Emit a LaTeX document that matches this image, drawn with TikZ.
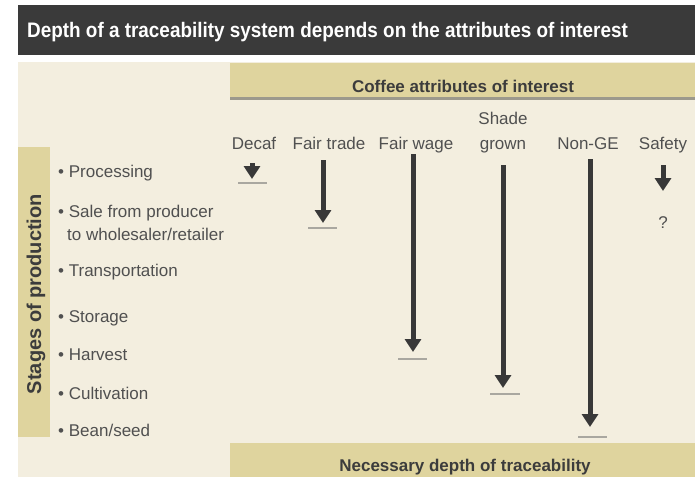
\documentclass[tikz,border=0pt]{standalone}
\usepackage{fontspec}
\setmainfont{Liberation Sans}
\newfontfamily\narrowsans[FakeStretch=0.9]{Liberation Sans}
\usetikzlibrary{arrows.meta}

\definecolor{headbg}{HTML}{3A3A3A}
\definecolor{paper}{HTML}{F3EEDF}
\definecolor{tanbar}{HTML}{DFD49E}
\definecolor{shadowline}{HTML}{9C998C}
\definecolor{ink}{HTML}{505050}
\definecolor{darkink}{HTML}{3C3C3C}
\definecolor{shaft}{HTML}{383838}
\definecolor{limit}{HTML}{A9A7A0}

\tikzset{
  title/.style={anchor=base west, text=white, inner sep=0pt,
    font=\narrowsans\bfseries\fontsize{21}{24}\selectfont},
  barlabel/.style={anchor=base, text=darkink, inner sep=0pt,
    font=\bfseries\fontsize{17}{20}\selectfont},
  attr/.style={anchor=base, text=ink, inner sep=0pt,
    font=\fontsize{17}{20}\selectfont},
  stage/.style={anchor=base west, text=ink, inner sep=0pt,
    font=\fontsize{17}{20}\selectfont},
  depth/.style={draw=shaft, line width=5pt,
    -{Triangle[width=16pt,length=13pt]}},
  limitline/.style={draw=limit, line width=2.5pt},
}

\begin{document}
\begin{tikzpicture}[x=1pt,y=-1pt]
\useasboundingbox (0,0) rectangle (700,477);
\fill[white] (0,0) rectangle (700,477);

% panels
\fill[headbg] (18,5) rectangle (695,55);
\fill[paper] (18,62) rectangle (695,477);
\fill[tanbar] (230,63) rectangle (695,97);
\fill[shadowline] (230,97) rectangle (695,100);
\fill[tanbar] (18,147) rectangle (50,437);
\fill[tanbar] (230,443) rectangle (695,477);

% headings
\node[title] (head) at (27,37) {Depth of a traceability system depends on the attributes of interest};
\node[barlabel] (attrhead) at (463,92) {Coffee attributes of interest};
\node[barlabel] (depthhead) at (465,471) {Necessary depth of traceability};
\node[barlabel, rotate=90, anchor=base, font=\bfseries\fontsize{20}{24}\selectfont]
  (stagehead) at (41,294) {Stages of production};

% stages of production
\node[stage] (s1) at (58,177) {\textbullet\ Processing};
\node[stage] (s2) at (58,217) {\textbullet\ Sale from producer};
\node[stage] (s2b) at (67,240) {to wholesaler/retailer};
\node[stage] (s3) at (58,276) {\textbullet\ Transportation};
\node[stage] (s4) at (58,322) {\textbullet\ Storage};
\node[stage] (s5) at (58,360) {\textbullet\ Harvest};
\node[stage] (s6) at (58,399) {\textbullet\ Cultivation};
\node[stage] (s7) at (58,436) {\textbullet\ Bean/seed};

% attribute columns
\node[attr] (decaf) at (254,149) {Decaf};
\node[attr] (fairtrade) at (329,149) {Fair trade};
\node[attr] (fairwage) at (416,149) {Fair wage};
\node[attr] (shade) at (503,124) {Shade};
\node[attr] (grown) at (503,149) {grown};
\node[attr] (nonge) at (588,149) {Non-GE};
\node[attr] (safety) at (663,149) {Safety};
\node[attr] (unknown) at (663,228) {?};

% arrow start and end points
\coordinate (decafA) at (252,163);   \coordinate (decafB) at (252,179);
\coordinate (tradeA) at (323,160);   \coordinate (tradeB) at (323,223);
\coordinate (wageA) at (413,154);    \coordinate (wageB) at (413,352);
\coordinate (shadeA) at (503,165);   \coordinate (shadeB) at (503,388);
\coordinate (ngeA) at (590,159);     \coordinate (ngeB) at (590,427);
\coordinate (safeA) at (663,165);    \coordinate (safeB) at (663,191);

\draw[depth] (decafA) -- (decafB);
\draw[depth] (tradeA) -- (tradeB);
\draw[depth] (wageA) -- (wageB);
\draw[depth] (shadeA) -- (shadeB);
\draw[depth] (ngeA) -- (ngeB);
\draw[depth] (safeA) -- (safeB);

% depth limits
\coordinate (decafL) at (238,183);  \coordinate (decafR) at (267,183);
\coordinate (tradeL) at (308,228);  \coordinate (tradeR) at (337,228);
\coordinate (wageL) at (398,359);   \coordinate (wageR) at (427,359);
\coordinate (shadeL) at (490,394);  \coordinate (shadeR) at (520,394);
\coordinate (ngeL) at (578,437);    \coordinate (ngeR) at (607,437);

\draw[limitline] (decafL) -- (decafR);
\draw[limitline] (tradeL) -- (tradeR);
\draw[limitline] (wageL) -- (wageR);
\draw[limitline] (shadeL) -- (shadeR);
\draw[limitline] (ngeL) -- (ngeR);
\end{tikzpicture}
\end{document}
